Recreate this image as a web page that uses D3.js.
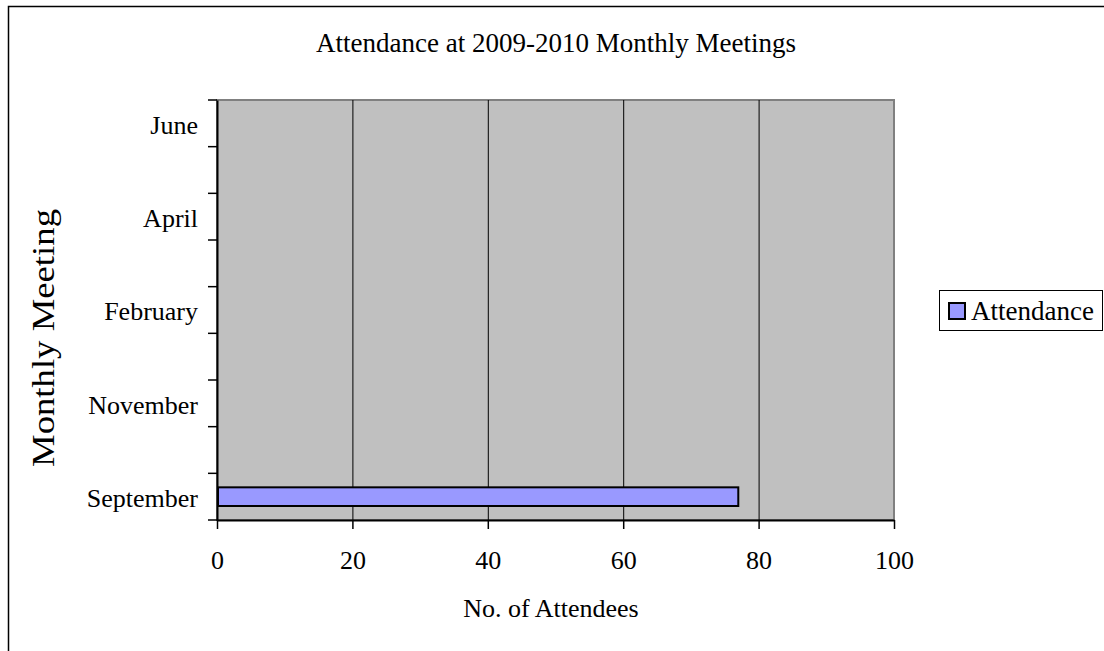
<!DOCTYPE html>
<meta charset="utf-8">
<title>Attendance at 2009-2010 Monthly Meetings</title>
<style>
body {
  margin: 0;
  background: #fff;
}
svg text {
  font-family: "Liberation Serif", "Times New Roman", serif;
  fill: #000;
}
</style>
<body></body>
<script src="https://d3js.org/d3.v7.min.js"></script>
<script>
var months = ['September', 'October', 'November', 'January', 'February', 'March', 'April', 'May', 'June'];
var attendance = [77, null, null, null, null, null, null, null, null];
var xTicks = [0, 20, 40, 60, 80, 100];
var shownLabels = ['September', 'November', 'February', 'April', 'June'];

var width = 1104,
    height = 651,
    plot = {left: 217, right: 894, top: 100, bottom: 520},
    barColor = '#9999ff';

var data = months.map(function (m, i) { return {month: m, value: attendance[i]}; });

var svg = d3.select('body').append('svg')
  .attr('width', width)
  .attr('height', height);

// outer chart frame
svg.append('rect')
  .attr('x', 8.5).attr('y', 6.5)
  .attr('width', 1200).attr('height', 700)
  .style('fill', 'none')
  .style('stroke', '#000')
  .style('stroke-width', 1.5);

var x = d3.scaleLinear()
  .domain([0, 100])
  .range([plot.left, plot.right]);

var y = d3.scaleBand()
  .domain(months.slice().reverse())
  .range([plot.top, plot.bottom])
  .paddingInner(0)
  .paddingOuter(0);

// plot area
svg.append('rect')
  .attr('x', plot.left).attr('y', plot.top)
  .attr('width', plot.right - plot.left)
  .attr('height', plot.bottom - plot.top)
  .style('fill', '#c0c0c0')
  .style('stroke', '#808080')
  .style('stroke-width', 2);

// gridlines
svg.append('g').selectAll('line')
  .data(xTicks.filter(function (d) { return d > 0 && d < 100; }))
  .enter().append('line')
  .attr('x1', function (d) { return x(d) + 0.5; })
  .attr('x2', function (d) { return x(d) + 0.5; })
  .attr('y1', plot.top)
  .attr('y2', plot.bottom)
  .style('stroke', '#000')
  .style('stroke-width', 1);

// bars
var bw = y.bandwidth() * 0.4;
svg.append('g').selectAll('rect')
  .data(data.filter(function (d) { return d.value != null; }))
  .enter().append('rect')
  .attr('x', x(0) + 1)
  .attr('y', function (d) { return y(d.month) + (y.bandwidth() - bw) / 2; })
  .attr('width', function (d) { return x(d.value) - x(0) - 1; })
  .attr('height', bw)
  .style('fill', barColor)
  .style('stroke', '#000')
  .style('stroke-width', 2);

// x axis
var xAxis = svg.append('g')
  .attr('transform', 'translate(0,' + plot.bottom + ')')
  .call(d3.axisBottom(x).tickValues(xTicks).tickSize(9).tickPadding(20).tickSizeOuter(0));
xAxis.select('.domain').style('stroke', '#000').style('stroke-width', 2);
xAxis.selectAll('.tick line').style('stroke', '#000').style('stroke-width', 1.5);
xAxis.selectAll('.tick text')
  .style('font-size', '26px')
  .attr('dy', '0.75em');

// y axis
var yAxis = svg.append('g')
  .attr('transform', 'translate(' + plot.left + ',0)')
  .call(d3.axisLeft(y).tickSize(0).tickPadding(19)
    .tickFormat(function (d) { return shownLabels.indexOf(d) >= 0 ? d : ''; }));
yAxis.select('.domain').style('stroke', '#000').style('stroke-width', 2);
yAxis.selectAll('.tick text')
  .style('font-size', '26px')
  .attr('dy', '0.4em');

var bounds = months.map(function (m) { return y(m); }).concat([plot.bottom]);
yAxis.selectAll('.bound')
  .data(bounds)
  .enter().append('line')
  .attr('class', 'bound')
  .attr('x1', -9).attr('x2', 0)
  .attr('y1', function (d) { return d; })
  .attr('y2', function (d) { return d; })
  .style('stroke', '#000')
  .style('stroke-width', 1.5);

// titles
svg.append('text')
  .attr('x', 556).attr('y', 52)
  .attr('text-anchor', 'middle')
  .style('font-size', '27px')
  .text('Attendance at 2009-2010 Monthly Meetings');

svg.append('text')
  .attr('x', 551).attr('y', 617)
  .attr('text-anchor', 'middle')
  .style('font-size', '26px')
  .text('No. of Attendees');

svg.append('text')
  .attr('transform', 'translate(54,338) rotate(-90)')
  .attr('text-anchor', 'middle')
  .attr('textLength', 258)
  .attr('lengthAdjust', 'spacingAndGlyphs')
  .style('font-size', '31px')
  .text('Monthly Meeting');

// legend
var legend = svg.append('g');
legend.append('rect')
  .attr('x', 939.5).attr('y', 290.5)
  .attr('width', 163).attr('height', 40)
  .style('fill', '#fff')
  .style('stroke', '#000')
  .style('stroke-width', 1);
legend.append('rect')
  .attr('x', 949).attr('y', 303)
  .attr('width', 16).attr('height', 16)
  .style('fill', barColor)
  .style('stroke', '#000')
  .style('stroke-width', 2);
legend.append('text')
  .attr('x', 971).attr('y', 320)
  .style('font-size', '27px')
  .text('Attendance');
</script>
